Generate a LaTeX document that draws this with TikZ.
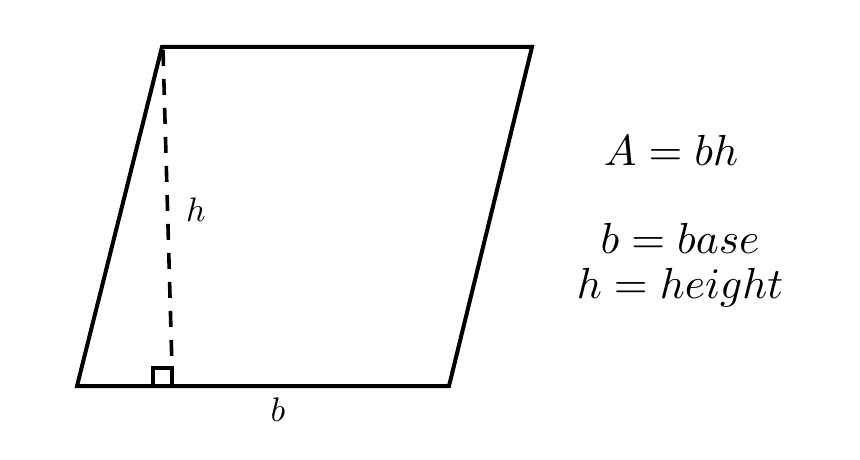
\documentclass[tikz,border=0pt]{standalone}
\begin{document}
\begin{tikzpicture}[x=1pt,y=-1pt,
  edge/.style={line width=4pt,line join=miter},
  hline/.style={line width=3.6pt,dash pattern=on 16pt off 13pt},
  lbl/.style={inner sep=0pt,scale=3.4},
  eq/.style={inner sep=0pt,scale=4.35}]
\useasboundingbox (0,0) rectangle (860,460);
\coordinate (TL) at (162,47);
\coordinate (TR) at (532,47);
\coordinate (BR) at (449,386);
\coordinate (BL) at (77,386);
\coordinate (HT) at (163,50);
\coordinate (HB) at (172,367);
\draw[edge] (TL) -- (TR) -- (BR) -- (BL) -- cycle;
\draw[hline] (HT) -- (HB);
\draw[line width=3.6pt] (153,386) -- (153,368) -- (172,368) -- (172,386);
\node[lbl] (h) at (196,210) {$h$};
\node[lbl] (b) at (278,410) {$b$};
\node[eq] (area) at (671,150) {$A=bh$};
\node[eq] (bdef) at (680,238) {$b=base$};
\node[eq] (hdef) at (680,288) {$h=height$};
\end{tikzpicture}
\end{document}
